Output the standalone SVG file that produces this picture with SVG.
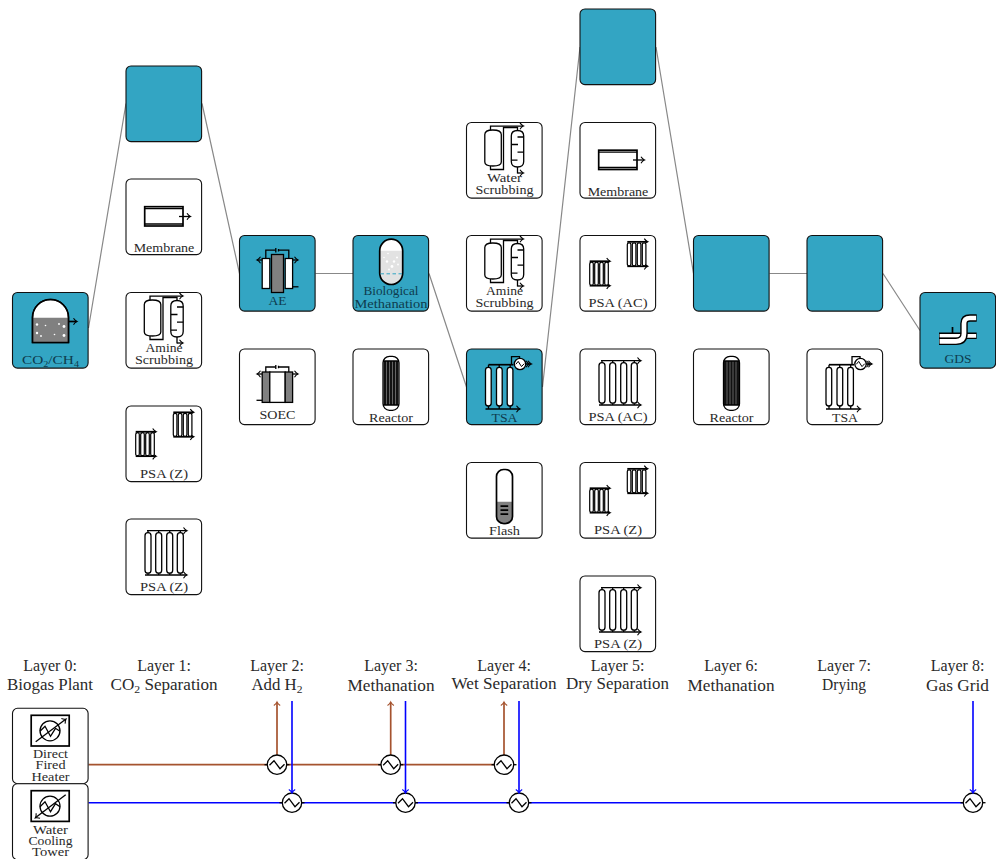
<svg xmlns="http://www.w3.org/2000/svg" width="996" height="859" viewBox="0 0 996 859">
<style>
text{font-family:"Liberation Serif","Times New Roman",serif;text-anchor:middle;font-size:13.5px;fill:#2a2a2a}
.t text{fill:#0e3c4e}
.lay{font-size:16px}
.box{fill:#fff;stroke:#111;stroke-width:1.1}
.t .box{fill:#33a5c3}
.s{fill:none;stroke:#000;stroke-width:1.3}
.w{fill:#fff;stroke:#000;stroke-width:1.3}
.g{fill:#808080;stroke:#000;stroke-width:1.3}
.th{fill:none;stroke:#000;stroke-width:1.7}
.conn{fill:none;stroke:#888;stroke-width:1.2}
.dot{fill:#fff}
.br{stroke:#a5532e;stroke-width:1.7;fill:none}
.bl{stroke:#0000ff;stroke-width:1.6;fill:none}
</style>
<defs>
<marker id="a" markerUnits="userSpaceOnUse" markerWidth="10" markerHeight="10" refX="6" refY="5" orient="auto" overflow="visible"><path d="M3,1.8Q4.5,4.2 6.5,5Q4.5,5.8 3,8.2" fill="none" stroke="#000" stroke-width="1.1"/></marker>
<marker id="ab" markerUnits="userSpaceOnUse" markerWidth="10" markerHeight="10" refX="6" refY="5" orient="auto" overflow="visible"><path d="M3,1.8Q4.5,4.2 6.5,5Q4.5,5.8 3,8.2" fill="none" stroke="#a5532e" stroke-width="1.1"/></marker>
<marker id="abl" markerUnits="userSpaceOnUse" markerWidth="10" markerHeight="10" refX="6" refY="5" orient="auto" overflow="visible"><path d="M3,1.8Q4.5,4.2 6.5,5Q4.5,5.8 3,8.2" fill="none" stroke="#0000ff" stroke-width="1.1"/></marker>
<symbol id="biogas" overflow="visible">
<path class="w" d="M20,26V25A18,18 0 0 1 56,25V50H20Z"/>
<path d="M20,25.300H56V50H20Z" fill="#808080"/>
<path class="th" d="M20,25V50H56V25A18,18 0 0 0 20,25"/>
<path class="th" d="M56,29H64" marker-end="url(#a)"/>
<g class="dot"><circle cx="24.500" cy="32" r="1.200"/><circle cx="33" cy="33" r=".8"/><circle cx="46.500" cy="31.500" r=".9"/><circle cx="51.500" cy="34" r="1.400"/><circle cx="24.500" cy="40.500" r="1.200"/><circle cx="28.500" cy="43.500" r=".9"/><circle cx="42" cy="42" r=".8"/><circle cx="51.500" cy="43" r="1.400"/></g>
</symbol>
<symbol id="membrane" overflow="visible">
<rect class="th" x="18.700" y="27.700" width="38.300" height="19.300"/>
<path class="s" d="M18.700,29.600H57M18.700,45H57"/>
<path class="s" d="M53,37.500H64" marker-end="url(#a)"/>
</symbol>
<symbol id="scrub" overflow="visible">
<path class="s" d="M24,7.500V3.600H56.500" marker-end="url(#a)"/>
<path class="s" d="M24,43.500V47H37V5H51V8.300"/>
<path class="w" d="M18.300,12Q18.300,7.500 26.300,7.500Q34.800,7.500 34.800,12V39.500Q34.800,43.500 26.300,43.500Q18.300,43.500 18.300,39.500Z"/>
<path class="w" d="M44.800,13.500Q44.800,8 51,8Q57.200,8 57.200,13.500V39Q57.200,44.500 51,44.500Q44.800,44.500 44.800,39Z"/>
<path class="s" d="M51,14.500H57.200M45,22H51.500M51,29.700H57.200M45,37.700H51M51,44.500V51"/>
<path class="s" d="M51,50.500H56.500" marker-end="url(#a)"/>
</symbol>
<symbol id="psas" overflow="visible">
<rect x="0" y="0" width="19" height="24" style="fill:#d8d8d8"/>
<path class="th" d="M0,0H20" marker-end="url(#a)"/>
<path class="th" d="M0,24.500H20" marker-end="url(#a)"/>
<g class="s" style="stroke-width:1.200"><rect x="0" y="1" width="3.600" height="23" rx="1.800" fill="#fff"/><rect x="5" y="1" width="3.600" height="23" rx="1.800" fill="#fff"/><rect x="10" y="1" width="3.600" height="23" rx="1.800" fill="#fff"/><rect x="15" y="1" width="3.600" height="23" rx="1.800" fill="#fff"/></g>
</symbol>
<symbol id="psa2" overflow="visible">
<use href="#psas" x="9.700" y="25.700"/><use href="#psas" x="47.300" y="6.300"/>
</symbol>
<symbol id="psa4" overflow="visible">
<path class="s" d="M21,11.700H60.500" marker-end="url(#a)"/>
<path class="s" d="M19,56H60.500" marker-end="url(#a)"/>
<path class="s" d="M22,11.700V14M32.700,11.700V14M43.700,11.700V14M54.300,11.700V14M22,54V56M32.700,54V56M43.700,54V56M54.300,54V56"/>
<rect class="w" x="19" y="13.700" width="6" height="40.500" rx="3"/><rect class="w" x="29.700" y="13.700" width="6" height="40.500" rx="3"/><rect class="w" x="40.700" y="13.700" width="6" height="40.500" rx="3"/><rect class="w" x="51.300" y="13.700" width="6" height="40.500" rx="3"/>
</symbol>
<symbol id="ae" overflow="visible">
<path class="s" d="M26.300,23V14.700H36.300M39,14.700H49.300V23M36.300,12.500V17M39,13.500V16"/>
<rect class="w" x="22.700" y="23" width="7.600" height="30"/><rect class="g" x="32" y="19" width="12" height="38"/><rect class="w" x="45.700" y="23" width="7.400" height="30"/>
<path class="s" d="M22.700,24.500H18" marker-end="url(#a)"/><path class="s" d="M53,24.500H58" marker-end="url(#a)"/><path class="s" d="M53,51.300H59"/>
</symbol>
<symbol id="soec" overflow="visible">
<path class="s" d="M26.300,23V18H36.300M39,18H49.300V23M36.300,16V20M39,16.800V19.200"/>
<rect class="g" x="22.700" y="23" width="7.600" height="30.400"/><rect class="w" x="30.300" y="23" width="15.400" height="30.400"/><rect class="g" x="45.700" y="23" width="7.400" height="30.400"/>
<path class="s" d="M22.700,25H18" marker-end="url(#a)"/><path class="s" d="M53,25H58" marker-end="url(#a)"/><path class="s" d="M17,51.300H22.700"/>
</symbol>
<symbol id="bio" overflow="visible">
<rect x="26.700" y="3.700" width="23" height="45.300" rx="11.500" fill="#fff"/>
<path d="M26.700,15.300H49.700V37.500A11.500,11.500 0 0 1 26.700,37.500Z" fill="#e2e2e2"/>
<rect class="th" x="26.700" y="3.700" width="23" height="45.300" rx="11.500"/>
<path d="M27.500,38.300H49" stroke="#33a5c3" stroke-width="1" stroke-dasharray="3.500 2.500" fill="none"/>
<g class="dot"><circle cx="34" cy="26" r="1.200"/><circle cx="39" cy="31" r="1.400"/><circle cx="44" cy="22" r="1"/><circle cx="35" cy="18" r=".8"/><circle cx="41" cy="26" r="1.200"/><circle cx="45" cy="29" r=".9"/><circle cx="36" cy="34" r=".9"/><circle cx="31" cy="22" r=".8"/></g>
</symbol>
<symbol id="reactor" overflow="visible">
<rect class="w" x="30" y="7.300" width="16" height="54" rx="6.500"/>
<rect x="30.500" y="12" width="15" height="44" fill="#111"/>
<path d="M33.500,12V56M36.500,12V56M39.500,12V56M42.500,12V56" stroke="#888" stroke-width=".7"/>
<path class="s" d="M30,12H46M30,56H46"/>
</symbol>
<symbol id="hx" overflow="visible">
<circle r="5.700" class="w"/>
<path class="s" d="M-4.200,.3L-1.800,-2.600L1.500,2.600L4.200,-.3" style="stroke-width:1"/>
</symbol>
<symbol id="tsa" overflow="visible">
<path class="th" d="M22,15.700H47"/>
<path class="s" d="M19,60H53" marker-end="url(#a)"/>
<path class="s" d="M45,15.700V7.700H53V11"/>
<rect class="w" x="19" y="18.300" width="5.700" height="38.700" rx="2.800"/><rect class="w" x="30" y="18.300" width="5.700" height="38.700" rx="2.800"/><rect class="w" x="40.700" y="18.300" width="5.700" height="38.700" rx="2.800"/>
<path class="s" d="M22,15.700V18.300M32.700,15.700V18.300M43.700,15.700V18.300M22,57V60M32.700,57V60M43.700,57V60"/>
<use href="#hx" x="53.500" y="15"/>
<path class="s" d="M59,15H62.500" marker-end="url(#a)"/><path class="s" d="M60,15H64.500" marker-end="url(#a)"/>
</symbol>
<symbol id="flash" overflow="visible">
<rect x="30" y="7" width="16" height="54" rx="7" fill="#fff"/>
<path d="M30,39.300H46V54A7,7 0 0 1 30,54Z" fill="#808080"/>
<rect class="th" x="30" y="7" width="16" height="54" rx="7"/>
<path class="th" d="M34,43.700H41.700M34,47.700H41.700M34,51.700H41.700"/>
</symbol>
<symbol id="gds" overflow="visible">
<path class="th" d="M32.500,34.500V41"/>
<path d="M19,43.300H56.700" fill="none" stroke="#000" stroke-width="6.500"/>
<path d="M19.600,43.300H56.100" fill="none" stroke="#fff" stroke-width="3.700"/>
<path d="M19,48.800H36Q44,48.800 44,41V31Q44,25.500 50,25.500H56.700" fill="none" stroke="#000" stroke-width="7.500"/>
<path d="M19.600,48.800H36Q44,48.800 44,41V31Q44,25.500 50,25.500H56.100" fill="none" stroke="#fff" stroke-width="4.700"/>
</symbol>
<symbol id="util" overflow="visible">
<rect class="th" x="18.700" y="7" width="38" height="30.700"/>
<circle cx="37.500" cy="22.500" r="10" class="s"/>
<path class="s" d="M27.500,23L32.500,18L38,28L43,20L47.500,23"/>
</symbol>
<symbol id="bhx" overflow="visible">
<path class="s" d="M-12.500,0H12.500"/>
<circle r="9.700" fill="#fff" stroke="#000" stroke-width="1.300"/>
<path class="s" d="M-7.500,.5L-3,-4L3,4L7.500,-.5"/>
</symbol>
</defs>

<g id="connectors">
<path class="conn" d="M88.500,328L126,103.500M202,103.500L239.500,273.500M315.500,273.500H353M429,273.500L466.500,387M542.500,387L580,47M656,47L693.500,273.500M769.500,273.500H807M883,273.500L920,330.500"/>
<path class="br" d="M88.500,764.700H504"/>
<path class="bl" d="M88.500,802.700H973"/>
<path class="br" d="M277,765V702.500" marker-end="url(#ab)"/>
<path class="br" d="M390.700,765V702.500" marker-end="url(#ab)"/>
<path class="br" d="M504,765V702.500" marker-end="url(#ab)"/>
</g>

<g id="n0" class="t" transform="translate(12.500,292.500)"><rect class="box" width="75.600" height="75.600" rx="5"/><use href="#biogas"/><text x="38" y="71.700" textLength="57" lengthAdjust="spacingAndGlyphs">CO<tspan font-size="9" dy="2.500">2</tspan><tspan dy="-2.500">/CH</tspan><tspan font-size="9" dy="2.500">4</tspan></text></g>

<g id="n1a" class="t" transform="translate(126,66)"><rect class="box" width="75.600" height="75.600" rx="5"/></g>
<g id="n1b" transform="translate(126,179)"><rect class="box" width="75.600" height="75.600" rx="5"/><use href="#membrane"/><text x="38" y="73" textLength="60.700" lengthAdjust="spacingAndGlyphs">Membrane</text></g>
<g id="n1c" transform="translate(126,292.500)"><rect class="box" width="75.600" height="75.600" rx="5"/><use href="#scrub"/><text x="38" y="59" textLength="37" lengthAdjust="spacingAndGlyphs">Amine</text><text x="38" y="71" textLength="58" lengthAdjust="spacingAndGlyphs">Scrubbing</text></g>
<g id="n1d" transform="translate(126,406)"><rect class="box" width="75.600" height="75.600" rx="5"/><use href="#psa2"/><text x="38" y="71.500" textLength="48" lengthAdjust="spacingAndGlyphs">PSA (Z)</text></g>
<g id="n1e" transform="translate(126,519)"><rect class="box" width="75.600" height="75.600" rx="5"/><use href="#psa4"/><text x="38" y="71.500" textLength="48" lengthAdjust="spacingAndGlyphs">PSA (Z)</text></g>

<g id="n2a" class="t" transform="translate(239.500,235.500)"><rect class="box" width="75.600" height="75.600" rx="5"/><use href="#ae"/><text x="38" y="69" textLength="18" lengthAdjust="spacingAndGlyphs">AE</text></g>
<g id="n2b" transform="translate(239.500,349)"><rect class="box" width="75.600" height="75.600" rx="5"/><use href="#soec"/><text x="38" y="70" textLength="36" lengthAdjust="spacingAndGlyphs">SOEC</text></g>

<g id="n3a" class="t" transform="translate(353,235.500)"><rect class="box" width="75.600" height="75.600" rx="5"/><use href="#bio"/><text x="38" y="59" textLength="55" lengthAdjust="spacingAndGlyphs">Biological</text><text x="38" y="72" textLength="73" lengthAdjust="spacingAndGlyphs">Methanation</text></g>
<g id="n3b" transform="translate(353,349)"><rect class="box" width="75.600" height="75.600" rx="5"/><use href="#reactor"/><text x="38" y="73" textLength="44" lengthAdjust="spacingAndGlyphs">Reactor</text></g>

<g id="n4a" transform="translate(466.500,122.500)"><rect class="box" width="75.600" height="75.600" rx="5"/><use href="#scrub"/><text x="38" y="59.500" textLength="35" lengthAdjust="spacingAndGlyphs">Water</text><text x="38" y="71.500" textLength="58" lengthAdjust="spacingAndGlyphs">Scrubbing</text></g>
<g id="n4b" transform="translate(466.500,235.500)"><rect class="box" width="75.600" height="75.600" rx="5"/><use href="#scrub"/><text x="38" y="59.500" textLength="37" lengthAdjust="spacingAndGlyphs">Amine</text><text x="38" y="71.500" textLength="58" lengthAdjust="spacingAndGlyphs">Scrubbing</text></g>
<g id="n4c" class="t" transform="translate(466.500,349)"><rect class="box" width="75.600" height="75.600" rx="5"/><use href="#tsa"/><text x="38" y="73" textLength="26" lengthAdjust="spacingAndGlyphs">TSA</text></g>
<g id="n4d" transform="translate(466.500,462.500)"><rect class="box" width="75.600" height="75.600" rx="5"/><use href="#flash"/><text x="38" y="72.700" textLength="31" lengthAdjust="spacingAndGlyphs">Flash</text></g>

<g id="n5a" class="t" transform="translate(580,9)"><rect class="box" width="75.600" height="75.600" rx="5"/></g>
<g id="n5b" transform="translate(580,122.500)"><rect class="box" width="75.600" height="75.600" rx="5"/><use href="#membrane"/><text x="38" y="73" textLength="60.700" lengthAdjust="spacingAndGlyphs">Membrane</text></g>
<g id="n5c" transform="translate(580,235.500)"><rect class="box" width="75.600" height="75.600" rx="5"/><use href="#psa2"/><text x="38" y="71.500" textLength="59" lengthAdjust="spacingAndGlyphs">PSA (AC)</text></g>
<g id="n5d" transform="translate(580,349)"><rect class="box" width="75.600" height="75.600" rx="5"/><use href="#psa4"/><text x="38" y="71.500" textLength="59" lengthAdjust="spacingAndGlyphs">PSA (AC)</text></g>
<g id="n5e" transform="translate(580,462.500)"><rect class="box" width="75.600" height="75.600" rx="5"/><use href="#psa2"/><text x="38" y="71.500" textLength="48" lengthAdjust="spacingAndGlyphs">PSA (Z)</text></g>
<g id="n5f" transform="translate(580,576)"><rect class="box" width="75.600" height="75.600" rx="5"/><use href="#psa4"/><text x="38" y="71.500" textLength="48" lengthAdjust="spacingAndGlyphs">PSA (Z)</text></g>

<g id="n6a" class="t" transform="translate(693.500,235.500)"><rect class="box" width="75.600" height="75.600" rx="5"/></g>
<g id="n6b" transform="translate(693.500,349)"><rect class="box" width="75.600" height="75.600" rx="5"/><use href="#reactor"/><text x="38" y="73" textLength="44" lengthAdjust="spacingAndGlyphs">Reactor</text></g>

<g id="n7a" class="t" transform="translate(807,235.500)"><rect class="box" width="75.600" height="75.600" rx="5"/></g>
<g id="n7b" transform="translate(807,349)"><rect class="box" width="75.600" height="75.600" rx="5"/><use href="#tsa"/><text x="38" y="73" textLength="26" lengthAdjust="spacingAndGlyphs">TSA</text></g>

<g id="n8" class="t" transform="translate(920,292.500)"><rect class="box" width="75.600" height="75.600" rx="5"/><use href="#gds"/><text x="38" y="70.500" textLength="27" lengthAdjust="spacingAndGlyphs">GDS</text></g>

<g id="layers">
<text class="lay" x="50" y="671">Layer 0:</text><text class="lay" x="50" y="690" textLength="86" lengthAdjust="spacingAndGlyphs">Biogas Plant</text>
<text class="lay" x="164" y="671">Layer 1:</text><text class="lay" x="164" y="690" textLength="107" lengthAdjust="spacingAndGlyphs">CO<tspan font-size="11" dy="2.500">2</tspan><tspan dy="-2.500"> Separation</tspan></text>
<text class="lay" x="277" y="671">Layer 2:</text><text class="lay" x="277" y="690" textLength="51" lengthAdjust="spacingAndGlyphs">Add H<tspan font-size="11" dy="2.500">2</tspan></text>
<text class="lay" x="391" y="671">Layer 3:</text><text class="lay" x="391" y="691" textLength="87" lengthAdjust="spacingAndGlyphs">Methanation</text>
<text class="lay" x="504" y="671">Layer 4:</text><text class="lay" x="504" y="689" textLength="105" lengthAdjust="spacingAndGlyphs">Wet Separation</text>
<text class="lay" x="617.500" y="671">Layer 5:</text><text class="lay" x="617.500" y="689" textLength="103" lengthAdjust="spacingAndGlyphs">Dry Separation</text>
<text class="lay" x="731" y="671">Layer 6:</text><text class="lay" x="731" y="691" textLength="87" lengthAdjust="spacingAndGlyphs">Methanation</text>
<text class="lay" x="844" y="671">Layer 7:</text><text class="lay" x="844" y="690" textLength="44" lengthAdjust="spacingAndGlyphs">Drying</text>
<text class="lay" x="957.500" y="671">Layer 8:</text><text class="lay" x="957.500" y="691" textLength="63" lengthAdjust="spacingAndGlyphs">Gas Grid</text>
</g>

<g id="u0" transform="translate(12.500,708.300)"><rect class="box" width="75.600" height="75.400" rx="5"/><use href="#util"/><path class="s" d="M23.200,33.400L53.200,11" marker-end="url(#a)"/><text x="38" y="49.400" textLength="35" lengthAdjust="spacingAndGlyphs">Direct</text><text x="38" y="61" textLength="30" lengthAdjust="spacingAndGlyphs">Fired</text><text x="38" y="72.400" textLength="38" lengthAdjust="spacingAndGlyphs">Heater</text></g>
<g id="u1" transform="translate(12.500,783.700)"><rect class="box" width="75.600" height="76" rx="5"/><use href="#util"/><path class="s" d="M53.200,11L23.200,33.900" marker-end="url(#a)"/><text x="38" y="50.300" textLength="35" lengthAdjust="spacingAndGlyphs">Water</text><text x="38" y="61.300" textLength="44" lengthAdjust="spacingAndGlyphs">Cooling</text><text x="38" y="72.300" textLength="37" lengthAdjust="spacingAndGlyphs">Tower</text></g>

<g id="hx-brown-1"><use href="#bhx" x="277" y="764.700"/></g>
<g id="hx-brown-2"><use href="#bhx" x="390.700" y="764.700"/></g>
<g id="hx-brown-3"><use href="#bhx" x="504" y="764.700"/></g>
<g id="hx-blue-1"><use href="#bhx" x="292" y="802.700"/></g>
<g id="hx-blue-2"><use href="#bhx" x="405.500" y="802.700"/></g>
<g id="hx-blue-3"><use href="#bhx" x="519" y="802.700"/></g>
<g id="hx-blue-4"><use href="#bhx" x="973" y="802.700"/></g>
<g id="blue-feeds">
<path class="bl" d="M292,701V792.500" marker-end="url(#abl)"/>
<path class="bl" d="M405.500,701V792.500" marker-end="url(#abl)"/>
<path class="bl" d="M519,701V792.500" marker-end="url(#abl)"/>
<path class="bl" d="M973,701V792.500" marker-end="url(#abl)"/>
</g>
</svg>
